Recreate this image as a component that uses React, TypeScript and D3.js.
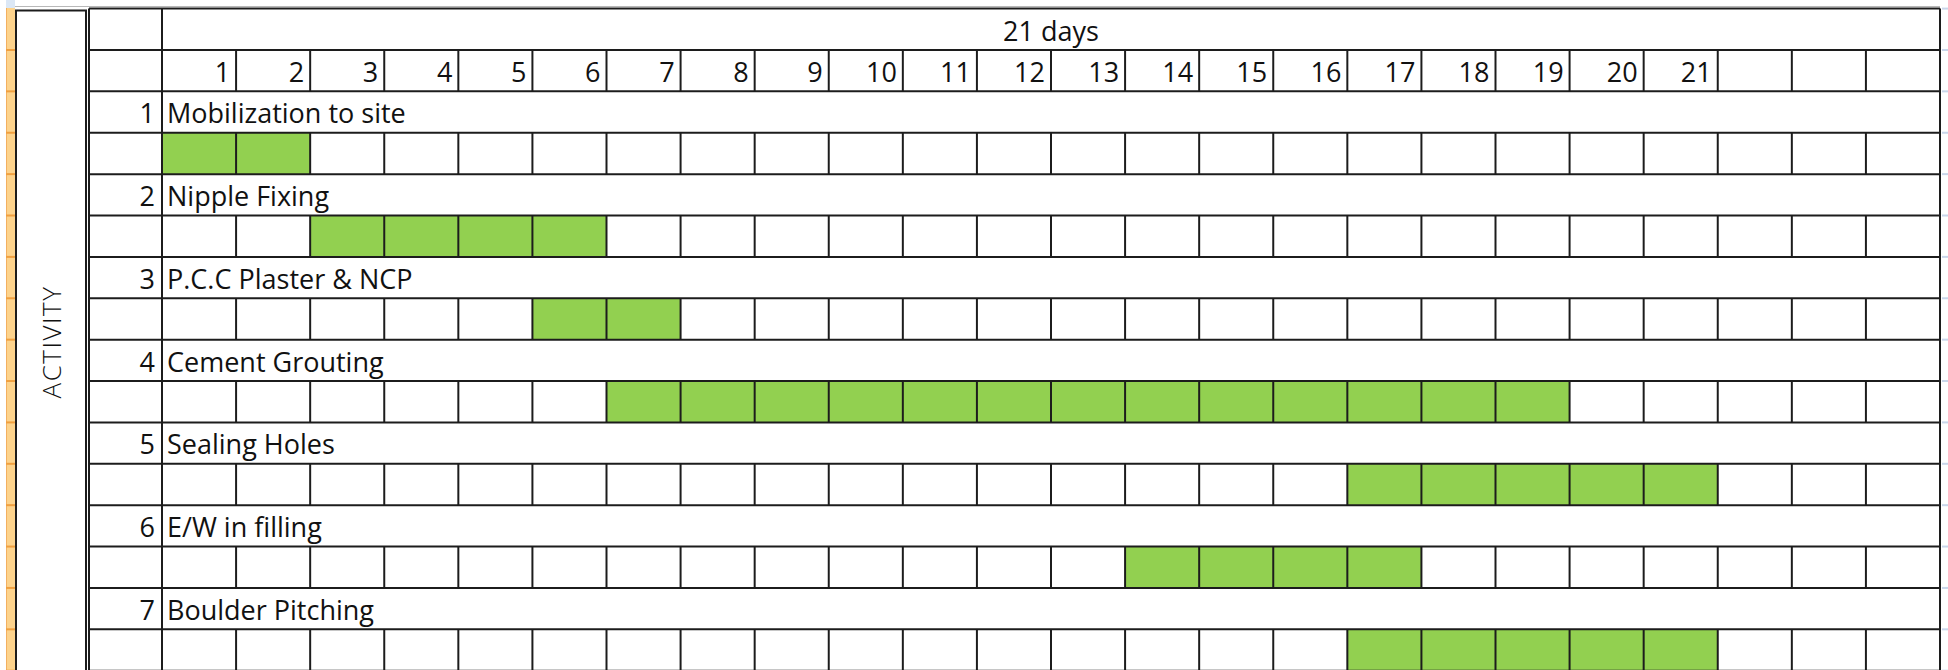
import React, { useEffect, useRef } from "react";
import * as d3 from "d3";

const spanTitle = "21 days";
const dayLabels = [
  "1", "2", "3", "4", "5", "6", "7", "8", "9", "10", "11", "12",
  "13", "14", "15", "16", "17", "18", "19", "20", "21", "", "", "",
];
const activityNumbers = [1, 2, 3, 4, 5, 6, 7];
const activityNames = [
  "Mobilization to site",
  "Nipple Fixing",
  "P.C.C Plaster & NCP",
  "Cement Grouting",
  "Sealing Holes",
  "E/W in filling",
  "Boulder Pitching",
];
const startDays = [1, 3, 6, 7, 17, 14, 17];
const endDays = [2, 6, 7, 19, 21, 17, 21];
const sideLabel = "ACTIVITY";

const W = 1948;
const H = 670;
const FONT = "'Open Sans', 'Noto Sans', sans-serif";

const App: React.FC = () => {
  const ref = useRef<SVGSVGElement | null>(null);

  useEffect(() => {
    const svg = d3.select(ref.current);
    svg.selectAll("*").remove();

    const nRows = 2 + activityNames.length * 2;
    const numLeft = 89;
    const x = d3.scaleLinear().domain([0, dayLabels.length]).range([162, 1940]);
    const y = d3.scaleLinear().domain([0, nRows]).range([8.6, 670.7]);
    const rowH = y(1) - y(0);
    const gridRight = x(dayLabels.length);
    const line = "#1c1c1c";

    svg.append("rect").attr("width", W).attr("height", H).attr("fill", "#fff");

    // excel row header strip
    svg.append("rect").attr("x", 6).attr("y", 0).attr("width", 9).attr("height", 8)
      .attr("fill", "#dbe7f5");
    svg.append("rect").attr("x", 6).attr("y", 8).attr("width", 9).attr("height", H - 8)
      .attr("fill", "#fdd38c");
    svg.append("line").attr("x1", 6.5).attr("x2", 6.5).attr("y1", 8).attr("y2", H)
      .attr("stroke", "#f3b060").attr("stroke-width", 1);
    svg.append("g").selectAll("line")
      .data(d3.range(1, nRows + 1))
      .join("line")
      .attr("x1", 6).attr("x2", 15)
      .attr("y1", (k) => y(k)).attr("y2", (k) => y(k))
      .attr("stroke", "#f0a040").attr("stroke-width", 2);
    // right edge ticks
    svg.append("g").selectAll("line")
      .data(d3.range(0, nRows + 1))
      .join("line")
      .attr("x1", gridRight + 2).attr("x2", W)
      .attr("y1", (k) => y(k)).attr("y2", (k) => y(k))
      .attr("stroke", "#c9d6ea").attr("stroke-width", 2);

    // faint line above the grid
    svg.append("line").attr("x1", 15).attr("x2", gridRight).attr("y1", 6.5).attr("y2", 6.5)
      .attr("stroke", "#b8b8b8").attr("stroke-width", 1);

    // ACTIVITY box
    svg.append("rect").attr("x", 16).attr("y", 10.5).attr("width", 70).attr("height", H)
      .attr("fill", "#fff").attr("stroke", line).attr("stroke-width", 2);
    svg.append("text")
      .attr("transform", `translate(61,${(10 + H) / 2 + 2}) rotate(-90)`)
      .attr("text-anchor", "middle")
      .attr("font-family", FONT)
      .attr("font-size", 26)
      .attr("font-weight", 300)
      .attr("letter-spacing", 1.5)
      .attr("fill", "#111")
      .text(sideLabel);

    // green bars
    svg.append("g").selectAll("rect")
      .data(activityNames)
      .join("rect")
      .attr("x", (_, i) => x(startDays[i] - 1))
      .attr("y", (_, i) => y(3 + i * 2))
      .attr("width", (_, i) => x(endDays[i]) - x(startDays[i] - 1))
      .attr("height", rowH)
      .attr("fill", "#92d050");

    const grid = svg.append("g").attr("stroke", line).attr("stroke-width", 2);

    // horizontal lines
    grid.selectAll("line.h")
      .data(d3.range(0, nRows + 1))
      .join("line")
      .attr("class", "h")
      .attr("x1", numLeft).attr("x2", gridRight)
      .attr("y1", (k) => y(k)).attr("y2", (k) => y(k));

    // outer / fixed verticals
    [numLeft, x(0), gridRight].forEach((xv) => {
      grid.append("line").attr("x1", xv).attr("x2", xv).attr("y1", y(0)).attr("y2", H);
    });

    // inner verticals on day-number row and bar rows
    const cellRows = [1, ...activityNames.map((_, i) => 3 + i * 2)];
    cellRows.forEach((r) => {
      grid.append("g").selectAll("line")
        .data(d3.range(1, dayLabels.length))
        .join("line")
        .attr("x1", (c) => x(c)).attr("x2", (c) => x(c))
        .attr("y1", y(r)).attr("y2", y(r + 1));
    });

    const txt = svg.append("g")
      .attr("font-family", FONT)
      .attr("font-size", 27)
      .attr("fill", "#111");
    const base = 32;

    txt.append("text")
      .attr("x", (x(0) + gridRight) / 2)
      .attr("y", y(0) + base)
      .attr("text-anchor", "middle")
      .text(spanTitle);

    txt.append("g").selectAll("text")
      .data(dayLabels)
      .join("text")
      .attr("x", (_, i) => x(i + 1) - 6)
      .attr("y", y(1) + base)
      .attr("text-anchor", "end")
      .text((d) => d);

    txt.append("g").selectAll("text")
      .data(activityNumbers)
      .join("text")
      .attr("x", x(0) - 7)
      .attr("y", (_, i) => y(2 + i * 2) + base)
      .attr("text-anchor", "end")
      .text((d) => d);

    txt.append("g").selectAll("text")
      .data(activityNames)
      .join("text")
      .attr("x", x(0) + 5)
      .attr("y", (_, i) => y(2 + i * 2) + base)
      .text((d) => d);
  }, []);

  return (
    <div style={{ position: "absolute", left: 0, top: 0 }}>
      <svg ref={ref} width={W} height={H} style={{ display: "block" }} />
    </div>
  );
};

export default App;
